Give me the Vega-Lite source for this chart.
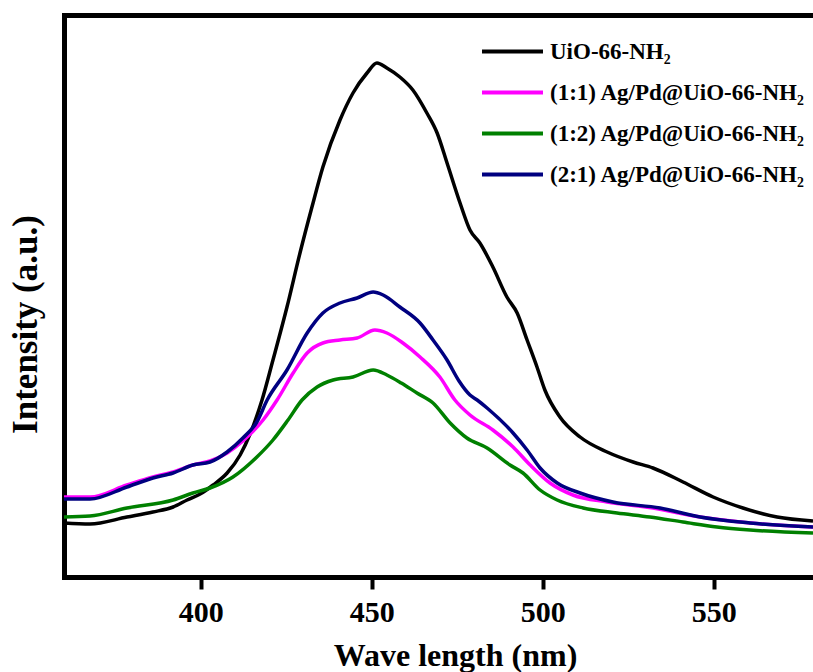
{
  "$schema": "https://vega.github.io/schema/vega-lite/v6.json",
  "width": 749,
  "height": 562,
  "autosize": {"type": "none"},
  "padding": {"left": 64, "top": 15, "right": 0, "bottom": 95},
  "background": "white",
  "config": {
    "view": {"stroke": null},
    "font": "Liberation Serif",
    "axis": {"grid": false, "zindex": 1, "domainColor": "black", "domainWidth": 5, "domainCap": "square"},
    "legend": {
      "orient": "none",
      "legendX": 431,
      "legendY": 19,
      "title": null,
      "padding": 0,
      "symbolType": "M-2,0H2",
      "symbolSize": 930,
      "symbolStrokeWidth": 4,
      "labelFont": "Liberation Serif",
      "labelFontSize": 23,
      "labelFontWeight": "bold",
      "labelColor": "black",
      "labelOffset": 20,
      "labelLimit": 0,
      "rowPadding": 11
    }
  },
  "layer": [
    {
      "data": {
        "values": [
          {"s": "UiO-66-NH₂", "w": 360, "i": 54}, {"s": "UiO-66-NH₂", "w": 367.6, "i": 53}, {"s": "UiO-66-NH₂", "w": 378.4, "i": 60}, {"s": "UiO-66-NH₂", "w": 386, "i": 65}, {"s": "UiO-66-NH₂", "w": 391.9, "i": 70}, {"s": "UiO-66-NH₂", "w": 396, "i": 77}, {"s": "UiO-66-NH₂", "w": 399.8, "i": 83}, {"s": "UiO-66-NH₂", "w": 403.6, "i": 92}, {"s": "UiO-66-NH₂", "w": 407.7, "i": 104}, {"s": "UiO-66-NH₂", "w": 411.5, "i": 122}, {"s": "UiO-66-NH₂", "w": 414.4, "i": 143}, {"s": "UiO-66-NH₂", "w": 417.9, "i": 177}, {"s": "UiO-66-NH₂", "w": 421.1, "i": 217}, {"s": "UiO-66-NH₂", "w": 425.2, "i": 270}, {"s": "UiO-66-NH₂", "w": 429, "i": 324}, {"s": "UiO-66-NH₂", "w": 432.5, "i": 370}, {"s": "UiO-66-NH₂", "w": 435.7, "i": 410}, {"s": "UiO-66-NH₂", "w": 440.7, "i": 457}, {"s": "UiO-66-NH₂", "w": 444.5, "i": 484}, {"s": "UiO-66-NH₂", "w": 448.6, "i": 504}, {"s": "UiO-66-NH₂", "w": 451.5, "i": 514}, {"s": "UiO-66-NH₂", "w": 454.4, "i": 509}, {"s": "UiO-66-NH₂", "w": 458.2, "i": 500}, {"s": "UiO-66-NH₂", "w": 462, "i": 487}, {"s": "UiO-66-NH₂", "w": 466.1, "i": 464}, {"s": "UiO-66-NH₂", "w": 469.1, "i": 444}, {"s": "UiO-66-NH₂", "w": 472, "i": 414}, {"s": "UiO-66-NH₂", "w": 475.8, "i": 374}, {"s": "UiO-66-NH₂", "w": 478.7, "i": 347}, {"s": "UiO-66-NH₂", "w": 481.6, "i": 334}, {"s": "UiO-66-NH₂", "w": 485.4, "i": 310}, {"s": "UiO-66-NH₂", "w": 489.5, "i": 280}, {"s": "UiO-66-NH₂", "w": 492.5, "i": 264}, {"s": "UiO-66-NH₂", "w": 495.4, "i": 237}, {"s": "UiO-66-NH₂", "w": 498.3, "i": 210}, {"s": "UiO-66-NH₂", "w": 500.6, "i": 187}, {"s": "UiO-66-NH₂", "w": 505, "i": 160}, {"s": "UiO-66-NH₂", "w": 510.9, "i": 140}, {"s": "UiO-66-NH₂", "w": 518.8, "i": 125}, {"s": "UiO-66-NH₂", "w": 526.4, "i": 115}, {"s": "UiO-66-NH₂", "w": 532.2, "i": 109}, {"s": "UiO-66-NH₂", "w": 541, "i": 95}, {"s": "UiO-66-NH₂", "w": 549.8, "i": 80}, {"s": "UiO-66-NH₂", "w": 558.5, "i": 69}, {"s": "UiO-66-NH₂", "w": 568.5, "i": 60}, {"s": "UiO-66-NH₂", "w": 579, "i": 56},

          {"s": "(1:1) Ag/Pd@UiO-66-NH₂", "w": 360, "i": 80}, {"s": "(1:1) Ag/Pd@UiO-66-NH₂", "w": 367.6, "i": 80}, {"s": "(1:1) Ag/Pd@UiO-66-NH₂", "w": 378.4, "i": 92}, {"s": "(1:1) Ag/Pd@UiO-66-NH₂", "w": 386, "i": 100}, {"s": "(1:1) Ag/Pd@UiO-66-NH₂", "w": 391.9, "i": 105}, {"s": "(1:1) Ag/Pd@UiO-66-NH₂", "w": 397.7, "i": 112}, {"s": "(1:1) Ag/Pd@UiO-66-NH₂", "w": 402.7, "i": 116}, {"s": "(1:1) Ag/Pd@UiO-66-NH₂", "w": 407.7, "i": 124}, {"s": "(1:1) Ag/Pd@UiO-66-NH₂", "w": 412.3, "i": 136}, {"s": "(1:1) Ag/Pd@UiO-66-NH₂", "w": 418.2, "i": 157}, {"s": "(1:1) Ag/Pd@UiO-66-NH₂", "w": 422.3, "i": 177}, {"s": "(1:1) Ag/Pd@UiO-66-NH₂", "w": 427, "i": 204}, {"s": "(1:1) Ag/Pd@UiO-66-NH₂", "w": 431.1, "i": 224}, {"s": "(1:1) Ag/Pd@UiO-66-NH₂", "w": 435.7, "i": 234}, {"s": "(1:1) Ag/Pd@UiO-66-NH₂", "w": 440.7, "i": 237}, {"s": "(1:1) Ag/Pd@UiO-66-NH₂", "w": 445.7, "i": 239}, {"s": "(1:1) Ag/Pd@UiO-66-NH₂", "w": 450.9, "i": 247}, {"s": "(1:1) Ag/Pd@UiO-66-NH₂", "w": 454.4, "i": 244}, {"s": "(1:1) Ag/Pd@UiO-66-NH₂", "w": 459.1, "i": 234}, {"s": "(1:1) Ag/Pd@UiO-66-NH₂", "w": 464.1, "i": 220}, {"s": "(1:1) Ag/Pd@UiO-66-NH₂", "w": 469.9, "i": 200}, {"s": "(1:1) Ag/Pd@UiO-66-NH₂", "w": 474.3, "i": 177}, {"s": "(1:1) Ag/Pd@UiO-66-NH₂", "w": 478.7, "i": 162}, {"s": "(1:1) Ag/Pd@UiO-66-NH₂", "w": 485.4, "i": 147}, {"s": "(1:1) Ag/Pd@UiO-66-NH₂", "w": 491.3, "i": 130}, {"s": "(1:1) Ag/Pd@UiO-66-NH₂", "w": 496.3, "i": 112}, {"s": "(1:1) Ag/Pd@UiO-66-NH₂", "w": 502.1, "i": 94}, {"s": "(1:1) Ag/Pd@UiO-66-NH₂", "w": 508.8, "i": 82}, {"s": "(1:1) Ag/Pd@UiO-66-NH₂", "w": 518.8, "i": 75}, {"s": "(1:1) Ag/Pd@UiO-66-NH₂", "w": 532.2, "i": 69}, {"s": "(1:1) Ag/Pd@UiO-66-NH₂", "w": 546, "i": 60}, {"s": "(1:1) Ag/Pd@UiO-66-NH₂", "w": 560.6, "i": 54}, {"s": "(1:1) Ag/Pd@UiO-66-NH₂", "w": 579, "i": 50},

          {"s": "(1:2) Ag/Pd@UiO-66-NH₂", "w": 360, "i": 60}, {"s": "(1:2) Ag/Pd@UiO-66-NH₂", "w": 367.6, "i": 61}, {"s": "(1:2) Ag/Pd@UiO-66-NH₂", "w": 378.4, "i": 69}, {"s": "(1:2) Ag/Pd@UiO-66-NH₂", "w": 391.9, "i": 77}, {"s": "(1:2) Ag/Pd@UiO-66-NH₂", "w": 397.7, "i": 84}, {"s": "(1:2) Ag/Pd@UiO-66-NH₂", "w": 402.7, "i": 89}, {"s": "(1:2) Ag/Pd@UiO-66-NH₂", "w": 409.4, "i": 100}, {"s": "(1:2) Ag/Pd@UiO-66-NH₂", "w": 416.4, "i": 120}, {"s": "(1:2) Ag/Pd@UiO-66-NH₂", "w": 421.1, "i": 137}, {"s": "(1:2) Ag/Pd@UiO-66-NH₂", "w": 425.5, "i": 157}, {"s": "(1:2) Ag/Pd@UiO-66-NH₂", "w": 429.6, "i": 177}, {"s": "(1:2) Ag/Pd@UiO-66-NH₂", "w": 434, "i": 190}, {"s": "(1:2) Ag/Pd@UiO-66-NH₂", "w": 438.7, "i": 197}, {"s": "(1:2) Ag/Pd@UiO-66-NH₂", "w": 444.5, "i": 200}, {"s": "(1:2) Ag/Pd@UiO-66-NH₂", "w": 450.4, "i": 207}, {"s": "(1:2) Ag/Pd@UiO-66-NH₂", "w": 454.4, "i": 202}, {"s": "(1:2) Ag/Pd@UiO-66-NH₂", "w": 458.6, "i": 194}, {"s": "(1:2) Ag/Pd@UiO-66-NH₂", "w": 463.2, "i": 184}, {"s": "(1:2) Ag/Pd@UiO-66-NH₂", "w": 467.9, "i": 174}, {"s": "(1:2) Ag/Pd@UiO-66-NH₂", "w": 472.9, "i": 154}, {"s": "(1:2) Ag/Pd@UiO-66-NH₂", "w": 477.8, "i": 139}, {"s": "(1:2) Ag/Pd@UiO-66-NH₂", "w": 483.7, "i": 129}, {"s": "(1:2) Ag/Pd@UiO-66-NH₂", "w": 490.4, "i": 112}, {"s": "(1:2) Ag/Pd@UiO-66-NH₂", "w": 494.2, "i": 104}, {"s": "(1:2) Ag/Pd@UiO-66-NH₂", "w": 499.2, "i": 87}, {"s": "(1:2) Ag/Pd@UiO-66-NH₂", "w": 504.2, "i": 77}, {"s": "(1:2) Ag/Pd@UiO-66-NH₂", "w": 511.8, "i": 69}, {"s": "(1:2) Ag/Pd@UiO-66-NH₂", "w": 521.7, "i": 64}, {"s": "(1:2) Ag/Pd@UiO-66-NH₂", "w": 531.3, "i": 60}, {"s": "(1:2) Ag/Pd@UiO-66-NH₂", "w": 541, "i": 55}, {"s": "(1:2) Ag/Pd@UiO-66-NH₂", "w": 550.9, "i": 50}, {"s": "(1:2) Ag/Pd@UiO-66-NH₂", "w": 560.6, "i": 47}, {"s": "(1:2) Ag/Pd@UiO-66-NH₂", "w": 579, "i": 44},

          {"s": "(2:1) Ag/Pd@UiO-66-NH₂", "w": 360, "i": 78}, {"s": "(2:1) Ag/Pd@UiO-66-NH₂", "w": 367.6, "i": 78}, {"s": "(2:1) Ag/Pd@UiO-66-NH₂", "w": 378.4, "i": 90}, {"s": "(2:1) Ag/Pd@UiO-66-NH₂", "w": 386, "i": 99}, {"s": "(2:1) Ag/Pd@UiO-66-NH₂", "w": 391.9, "i": 104}, {"s": "(2:1) Ag/Pd@UiO-66-NH₂", "w": 397.7, "i": 112}, {"s": "(2:1) Ag/Pd@UiO-66-NH₂", "w": 402.7, "i": 115}, {"s": "(2:1) Ag/Pd@UiO-66-NH₂", "w": 407.7, "i": 125}, {"s": "(2:1) Ag/Pd@UiO-66-NH₂", "w": 412.3, "i": 139}, {"s": "(2:1) Ag/Pd@UiO-66-NH₂", "w": 416.4, "i": 155}, {"s": "(2:1) Ag/Pd@UiO-66-NH₂", "w": 419.4, "i": 177}, {"s": "(2:1) Ag/Pd@UiO-66-NH₂", "w": 425.2, "i": 207}, {"s": "(2:1) Ag/Pd@UiO-66-NH₂", "w": 431.1, "i": 244}, {"s": "(2:1) Ag/Pd@UiO-66-NH₂", "w": 435.7, "i": 264}, {"s": "(2:1) Ag/Pd@UiO-66-NH₂", "w": 440.7, "i": 274}, {"s": "(2:1) Ag/Pd@UiO-66-NH₂", "w": 445.7, "i": 279}, {"s": "(2:1) Ag/Pd@UiO-66-NH₂", "w": 450.4, "i": 285}, {"s": "(2:1) Ag/Pd@UiO-66-NH₂", "w": 453.3, "i": 282}, {"s": "(2:1) Ag/Pd@UiO-66-NH₂", "w": 458.2, "i": 270}, {"s": "(2:1) Ag/Pd@UiO-66-NH₂", "w": 464.1, "i": 254}, {"s": "(2:1) Ag/Pd@UiO-66-NH₂", "w": 467.9, "i": 237}, {"s": "(2:1) Ag/Pd@UiO-66-NH₂", "w": 472, "i": 217}, {"s": "(2:1) Ag/Pd@UiO-66-NH₂", "w": 475.5, "i": 196}, {"s": "(2:1) Ag/Pd@UiO-66-NH₂", "w": 478.7, "i": 182}, {"s": "(2:1) Ag/Pd@UiO-66-NH₂", "w": 480.8, "i": 177}, {"s": "(2:1) Ag/Pd@UiO-66-NH₂", "w": 483.7, "i": 169}, {"s": "(2:1) Ag/Pd@UiO-66-NH₂", "w": 491.3, "i": 144}, {"s": "(2:1) Ag/Pd@UiO-66-NH₂", "w": 495.4, "i": 127}, {"s": "(2:1) Ag/Pd@UiO-66-NH₂", "w": 499.2, "i": 109}, {"s": "(2:1) Ag/Pd@UiO-66-NH₂", "w": 504.2, "i": 94}, {"s": "(2:1) Ag/Pd@UiO-66-NH₂", "w": 510.9, "i": 84}, {"s": "(2:1) Ag/Pd@UiO-66-NH₂", "w": 520.5, "i": 75}, {"s": "(2:1) Ag/Pd@UiO-66-NH₂", "w": 534.3, "i": 69}, {"s": "(2:1) Ag/Pd@UiO-66-NH₂", "w": 546, "i": 60}, {"s": "(2:1) Ag/Pd@UiO-66-NH₂", "w": 560.6, "i": 54}, {"s": "(2:1) Ag/Pd@UiO-66-NH₂", "w": 579, "i": 50}
        ]
      },
      "mark": {"type": "line", "strokeWidth": 3.5, "interpolate": "monotone", "clip": true},
      "encoding": {
        "x": {
          "field": "w", "type": "quantitative",
          "scale": {"domain": [360, 579], "nice": false, "zero": false},
          "axis": {
            "orient": "bottom",
            "values": [400, 450, 500, 550],
            "tickSize": 12, "tickWidth": 4, "tickColor": "black",
            "labelFont": "Liberation Serif", "labelFontSize": 30, "labelFontWeight": "bold", "labelColor": "black",
            "labelBaseline": "alphabetic", "labelPadding": 32,
            "title": "Wave length (nm)",
            "titleFont": "Liberation Serif", "titleFontSize": 32, "titleFontWeight": "bold", "titleColor": "black",
            "titleX": 391, "titleY": 88, "titleBaseline": "alphabetic", "titleAlign": "center"
          }
        },
        "y": {
          "field": "i", "type": "quantitative",
          "scale": {"domain": [0, 562], "nice": false},
          "axis": {
            "orient": "left", "ticks": false, "labels": false,
            "title": "Intensity (a.u.)",
            "titleFont": "Liberation Serif", "titleFontSize": 35, "titleFontWeight": "bold", "titleColor": "black",
            "titleX": -21, "titleY": 309, "titleBaseline": "bottom", "titleAngle": -90, "titleAlign": "center"
          }
        },
        "color": {
          "field": "s", "type": "nominal",
          "scale": {
            "domain": ["UiO-66-NH₂", "(1:1) Ag/Pd@UiO-66-NH₂", "(1:2) Ag/Pd@UiO-66-NH₂", "(2:1) Ag/Pd@UiO-66-NH₂"],
            "range": ["#000000", "#FF00FF", "#008000", "#000080"]
          }
        }
      }
    },
    {
      "data": {"values": [{"w": 360}]},
      "mark": {"type": "rule", "opacity": 0},
      "encoding": {
        "x": {
          "field": "w", "type": "quantitative",
          "scale": {"domain": [360, 579], "nice": false, "zero": false},
          "axis": {"orient": "top", "ticks": false, "labels": false, "title": null}
        }
      }
    }
  ]
}
